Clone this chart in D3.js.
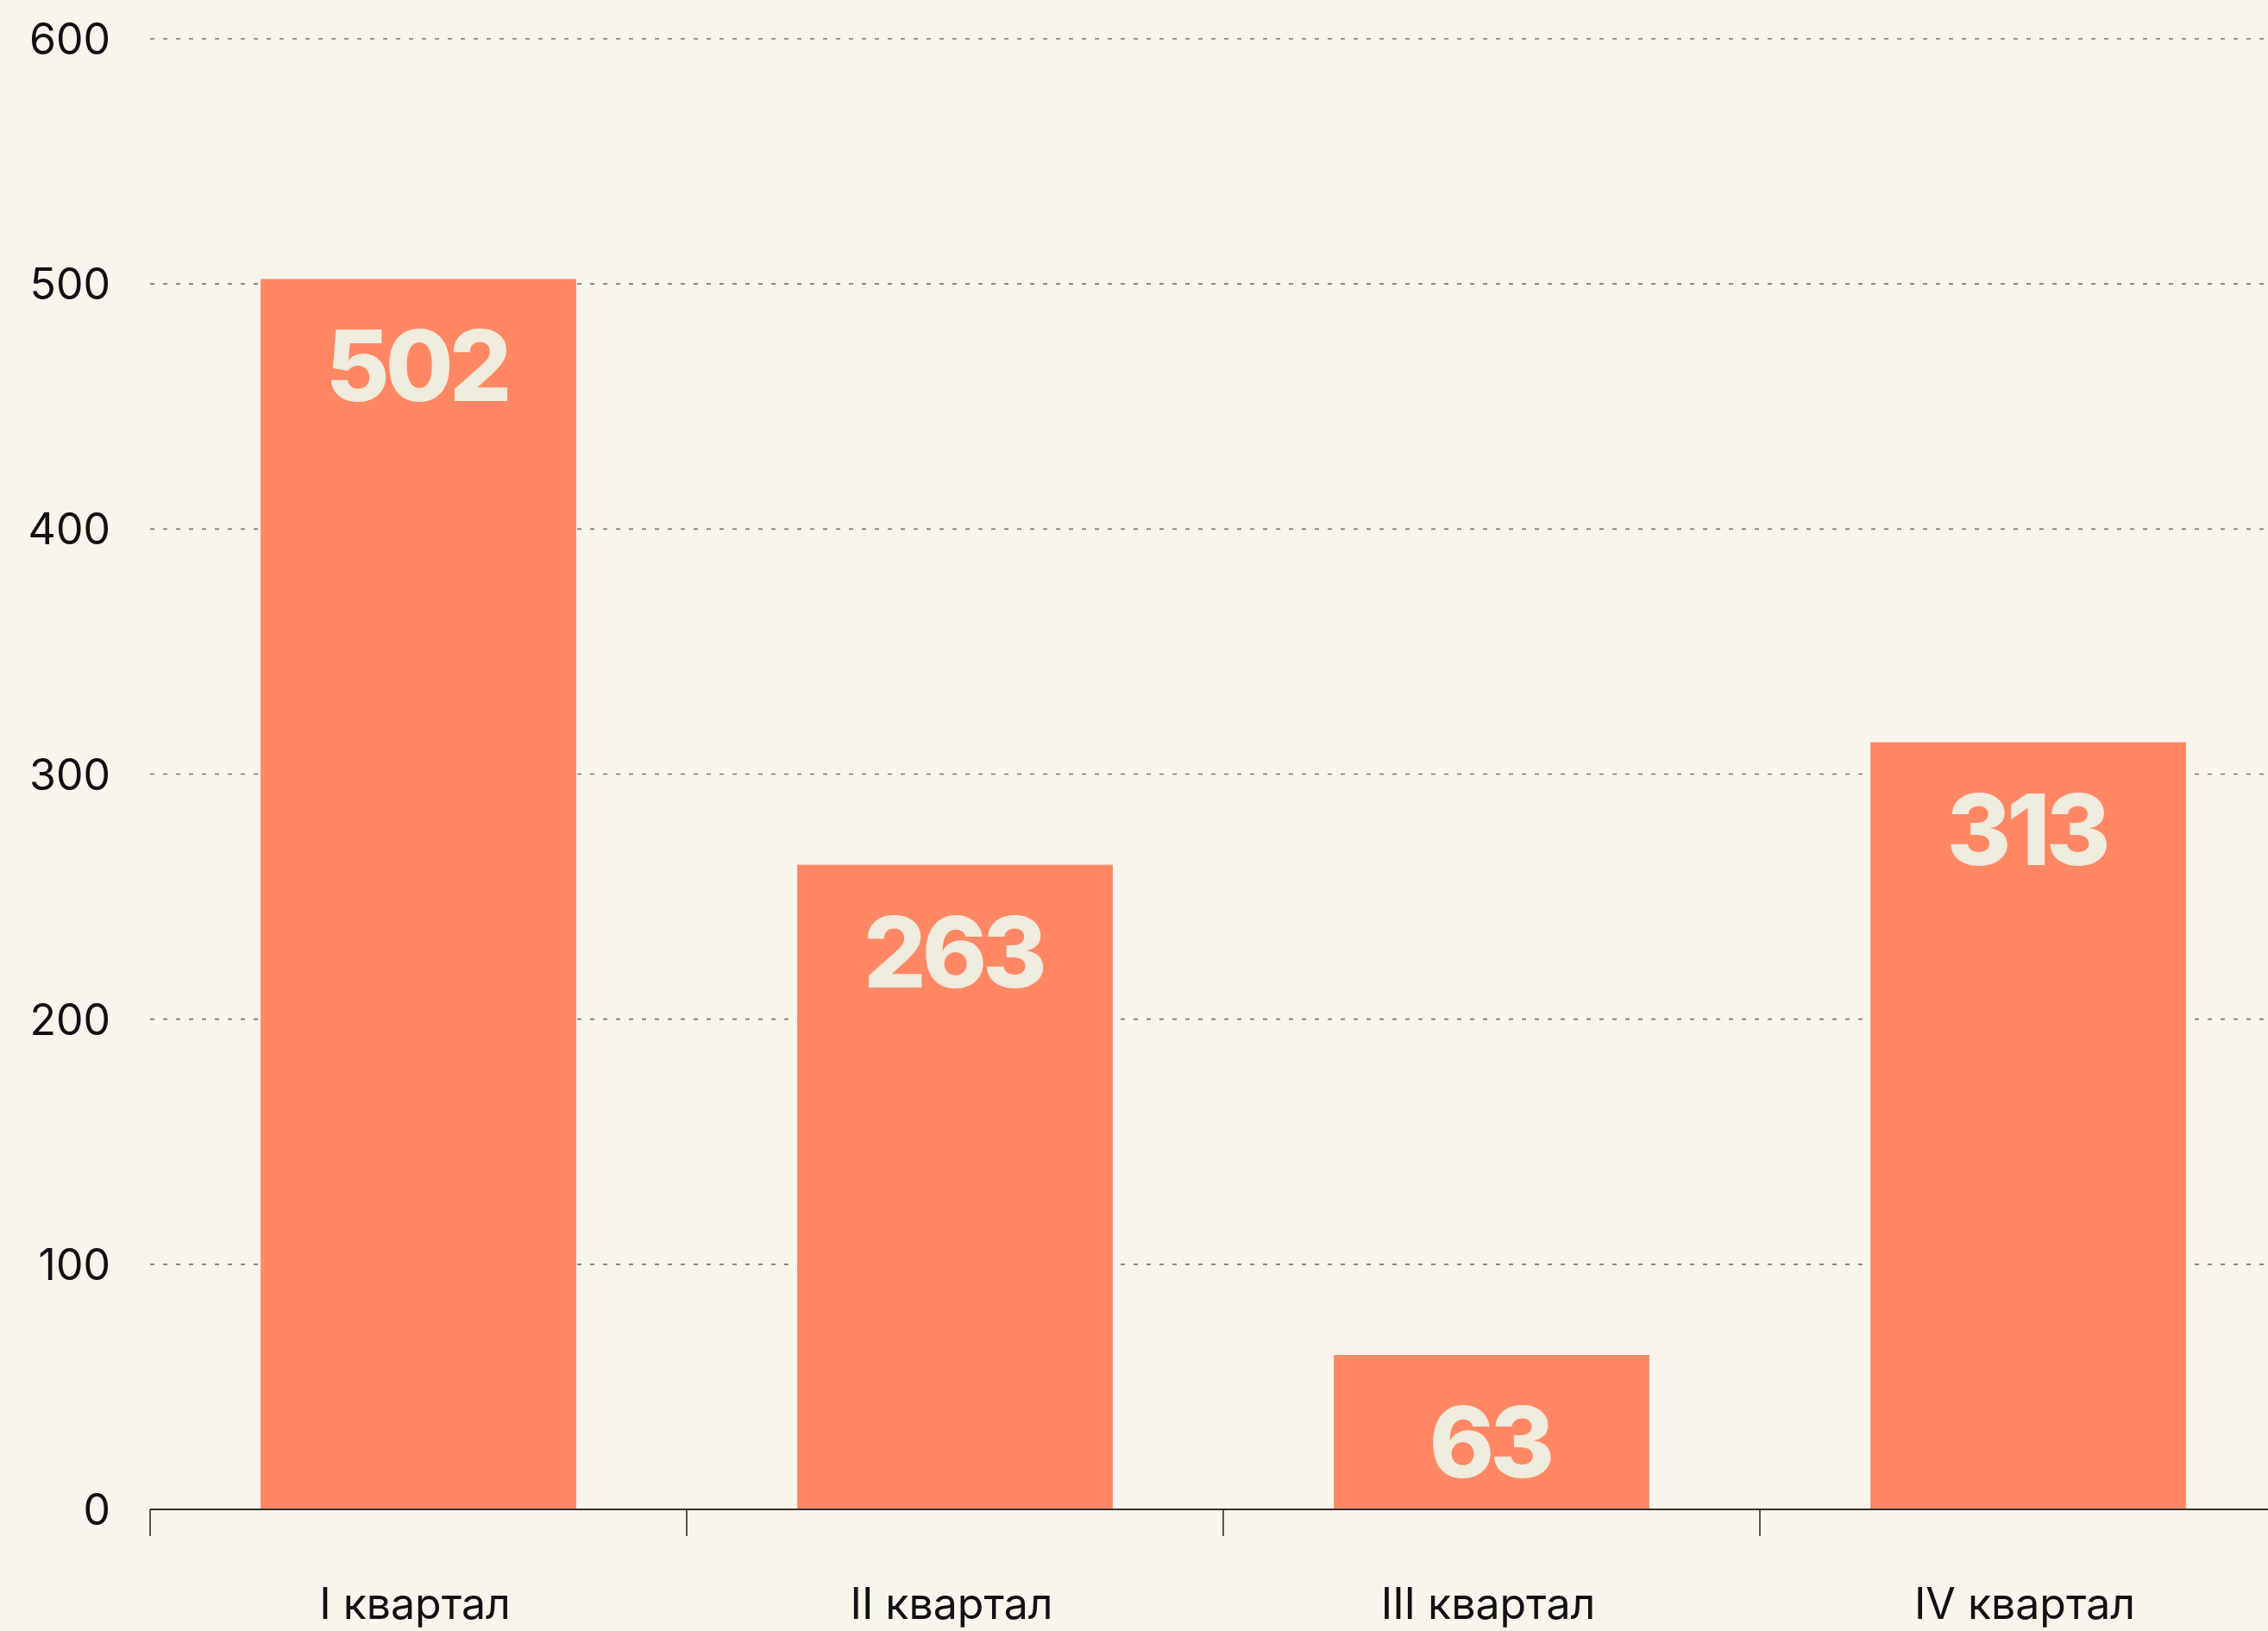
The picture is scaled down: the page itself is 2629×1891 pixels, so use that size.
<!DOCTYPE html>
<html>
<head>
<meta charset="utf-8">
<script src="https://cdnjs.cloudflare.com/ajax/libs/d3/7.8.5/d3.min.js"></script>
<style>
  html, body { margin: 0; padding: 0; background: #f9f4ec; }
  svg { display: block; }
  .tick-label { font-family: Inter, "Noto Sans", sans-serif; font-size: 50px; fill: #111; }
  .bar-label { font-family: Inter, "Noto Sans", sans-serif; font-size: 114px; font-weight: 800; fill: #efebdd; letter-spacing: -5px; }
</style>
</head>
<body>
<div id="chart"></div>
<script>
// chart data
var quarters = ["I квартал", "II квартал", "III квартал", "IV квартал"];
var values = [502, 263, 63, 313];
var yTicks = [0, 100, 200, 300, 400, 500, 600];

// svg size
var svgWidth = 2629;
var svgHeight = 1891;

var margin = { left: 174, top: 45, zeroY: 1750 };

var svg = d3.select("#chart")
  .append("svg")
  .attr("width", svgWidth)
  .attr("height", svgHeight);

svg.append("rect")
  .attr("width", svgWidth)
  .attr("height", svgHeight)
  .attr("fill", "#f9f4ec");

// scales (the last band runs off the right edge, as in the original)
var xBand = d3.scaleBand()
  .domain(quarters)
  .range([margin.left, margin.left + 4 * 622])
  .padding(0);

var xBar = d3.scaleBand()
  .domain(quarters)
  .range([margin.left, margin.left + 4 * 622])
  .paddingInner(0.412)
  .paddingOuter(0.206);

var yScale = d3.scaleLinear()
  .domain([0, 600])
  .range([margin.zeroY, margin.top]);

// gridlines
svg.append("g")
  .selectAll("line")
  .data(yTicks.filter(d => d > 0))
  .enter()
  .append("line")
  .attr("x1", margin.left)
  .attr("x2", svgWidth)
  .attr("y1", d => yScale(d))
  .attr("y2", d => yScale(d))
  .attr("stroke", "#7a7a7a")
  .attr("stroke-width", 1.6)
  .attr("stroke-dasharray", "5 10");

// y labels
svg.append("g")
  .selectAll("text")
  .data(yTicks)
  .enter()
  .append("text")
  .classed("tick-label", true)
  .attr("x", 128)
  .attr("y", d => yScale(d))
  .attr("text-anchor", "end")
  .attr("dominant-baseline", "central")
  .text(d => d);

// bars
svg.append("g")
  .selectAll("rect")
  .data(values)
  .enter()
  .append("rect")
  .attr("x", (d, i) => xBar(quarters[i]))
  .attr("y", d => yScale(d))
  .attr("width", xBar.bandwidth())
  .attr("height", d => yScale(0) - yScale(d))
  .attr("fill", "#ff8763");

// value labels
svg.append("g")
  .selectAll("text")
  .data(values)
  .enter()
  .append("text")
  .classed("bar-label", true)
  .attr("x", (d, i) => xBar(quarters[i]) + xBar.bandwidth() / 2 - 2)
  .attr("y", d => yScale(d) + 142)
  .attr("text-anchor", "middle")
  .text(d => d);

// x axis
var bottomAxis = d3.axisBottom(xBand).tickSize(0).tickFormat("");
var xAxis = svg.append("g")
  .attr("transform", `translate(0, ${margin.zeroY})`)
  .call(bottomAxis);
xAxis.select(".domain").remove();

xAxis.append("line")
  .attr("x1", margin.left)
  .attr("x2", svgWidth)
  .attr("stroke", "#333")
  .attr("stroke-width", 2);

xAxis.selectAll(".band-tick")
  .data(quarters)
  .enter()
  .append("line")
  .attr("x1", d => xBand(d))
  .attr("x2", d => xBand(d))
  .attr("y1", 0)
  .attr("y2", 31)
  .attr("stroke", "#222")
  .attr("stroke-width", 1.5);

xAxis.selectAll(".q-label")
  .data(quarters)
  .enter()
  .append("text")
  .classed("tick-label", true)
  .attr("x", d => xBand(d) + xBand.bandwidth() / 2 - 4)
  .attr("y", 127)
  .attr("text-anchor", "middle")
  .text(d => d);
</script>
</body>
</html>
